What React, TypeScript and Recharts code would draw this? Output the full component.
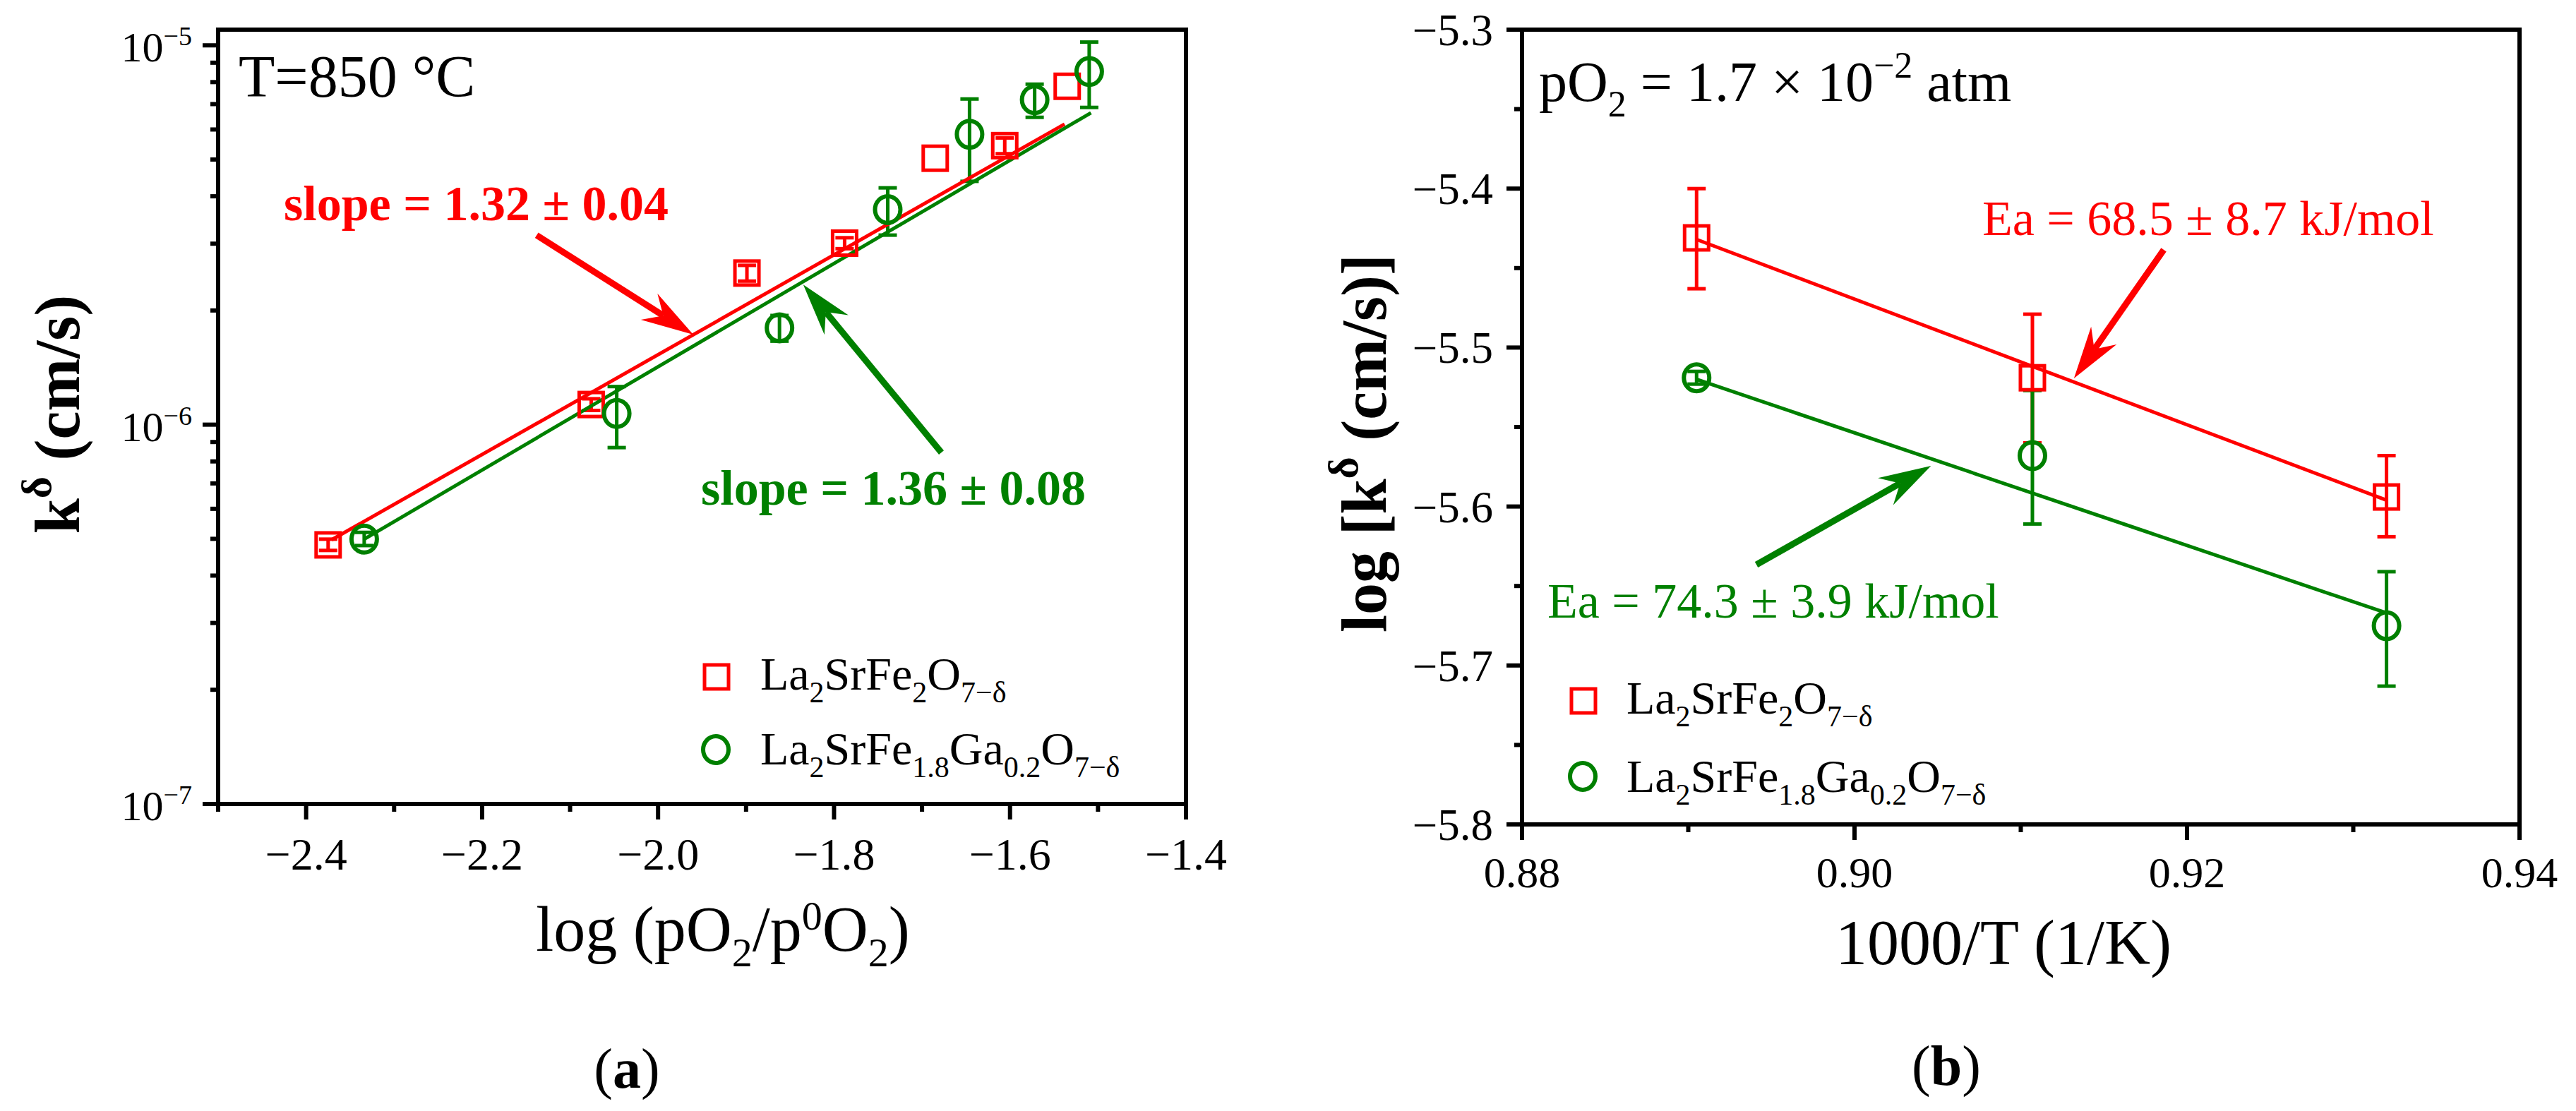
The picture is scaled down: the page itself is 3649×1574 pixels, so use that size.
import React from "react";
import {
  ComposedChart,
  Scatter,
  Line,
  XAxis,
  YAxis,
  ErrorBar,
  ReferenceLine,
} from "recharts";

const SERIF = "'Liberation Serif', 'Times New Roman', serif";
const RED = "#FF0000";
const GREEN = "#008000";

// ---- panel (a): k vs log(pO2/p0O2), T = 850 C ----
const logPO2Red = [-2.375, -2.076, -1.899, -1.788, -1.685, -1.606, -1.535];
const kRed = [4.82e-7, 1.13e-6, 2.51e-6, 3.01e-6, 5.04e-6, 5.44e-6, 7.8e-6];
const kRedLow = [4.66e-7, 1.09e-6, 2.39e-6, 2.91e-6, null, 5.18e-6, null];
const kRedHigh = [4.99e-7, 1.17e-6, 2.63e-6, 3.11e-6, null, 5.7e-6, null];

const logPO2Green = [-2.334, -2.047, -1.862, -1.739, -1.646, -1.572, -1.51];
const kGreen = [4.99e-7, 1.07e-6, 1.8e-6, 3.69e-6, 5.83e-6, 7.19e-6, 8.53e-6];
const kGreenLow = [4.8e-7, 8.7e-7, 1.66e-6, 3.16e-6, 4.38e-6, 6.46e-6, 6.86e-6];
const kGreenHigh = [5.2e-7, 1.26e-6, 1.94e-6, 4.21e-6, 7.22e-6, 7.9e-6, 1.02e-5];

const fitRedX = [-2.371, -1.538];
const fitRedK = [4.97e-7, 6.2e-6];
const fitGreenX = [-2.334, -1.508];
const fitGreenK = [4.99e-7, 6.64e-6];

const xMajorA = [-2.4, -2.2, -2.0, -1.8, -1.6, -1.4];
const xMinorA = [-2.5, -2.3, -2.1, -1.9, -1.7, -1.5];
const yMajorA = [1e-7, 1e-6, 1e-5];
const yMinorA = [
  2e-7, 3e-7, 4e-7, 5e-7, 6e-7, 7e-7, 8e-7, 9e-7,
  2e-6, 3e-6, 4e-6, 5e-6, 6e-6, 7e-6, 8e-6, 9e-6,
];

// ---- panel (b): log k vs 1000/T, pO2 = 1.7e-2 atm ----
const invT = [0.8905, 0.9107, 0.932];
const logkRed = [-5.431, -5.519, -5.594];
const logkRedLow = [-5.463, -5.56, -5.619];
const logkRedHigh = [-5.4, -5.479, -5.568];
const logkGreen = [-5.519, -5.568, -5.675];
const logkGreenLow = [-5.523, -5.611, -5.713];
const logkGreenHigh = [-5.515, -5.527, -5.641];

const fitRedInvT = [0.8905, 0.932];
const fitRedLogk = [-5.432, -5.596];
const fitGreenInvT = [0.8905, 0.932];
const fitGreenLogk = [-5.52, -5.667];

const xMajorB = [0.88, 0.9, 0.92, 0.94];
const xMinorB = [0.89, 0.91, 0.93];
const yMajorB = [-5.8, -5.7, -5.6, -5.5, -5.4, -5.3];
const yMinorB = [-5.75, -5.65, -5.55, -5.45, -5.35];

const pts = (xs: number[], ys: number[], lo?: (number | null)[], hi?: (number | null)[]) =>
  xs.map((x, i) => ({
    x,
    y: ys[i],
    err: lo && hi && lo[i] != null && hi[i] != null ? [ys[i] - (lo[i] as number), (hi[i] as number) - ys[i]] : undefined,
  }));

const redA = pts(logPO2Red, kRed, kRedLow, kRedHigh);
const greenA = pts(logPO2Green, kGreen, kGreenLow, kGreenHigh);
const redFitA = pts(fitRedX, fitRedK);
const greenFitA = pts(fitGreenX, fitGreenK);
const redB = pts(invT, logkRed, logkRedLow, logkRedHigh);
const greenB = pts(invT, logkGreen, logkGreenLow, logkGreenHigh);
const redFitB = pts(fitRedInvT, fitRedLogk);
const greenFitB = pts(fitGreenInvT, fitGreenLogk);

const has = (arr: number[], v: number) => arr.some((m) => Math.abs(m - v) < 1e-9);
const minus = (s: string) => s.replace("-", "\u2212");

const square = (color: string) => (p: any) => (
  <rect x={p.cx - 17} y={p.cy - 17} width={34} height={34} fill="none" stroke={color} strokeWidth={5} />
);
const circle = (color: string) => (p: any) => (
  <ellipse cx={p.cx} cy={p.cy} rx={18} ry={19} fill="none" stroke={color} strokeWidth={6} />
);

const arrow = (color: string) => (p: any) => {
  const { x1, y1, x2, y2 } = p;
  if (x1 == null || x2 == null) return null;
  const dx = x2 - x1;
  const dy = y2 - y1;
  const len = Math.hypot(dx, dy) || 1;
  const ux = dx / len;
  const uy = dy / len;
  const nx = -uy;
  const ny = ux;
  const L = 74;
  const W = 22;
  const N = 0.68 * L;
  const bx = x2 - L * ux;
  const by = y2 - L * uy;
  const poly = [
    [x2, y2],
    [bx + W * nx, by + W * ny],
    [x2 - N * ux, y2 - N * uy],
    [bx - W * nx, by - W * ny],
  ]
    .map((q) => q.join(","))
    .join(" ");
  return (
    <g>
      <line x1={x1} y1={y1} x2={x2 - N * ux} y2={y2 - N * uy} stroke={color} strokeWidth={9} />
      <polygon points={poly} fill={color} />
    </g>
  );
};

const xTick = (majors: number[], digits: number, dy: number, size: number) => (p: any) => {
  const { x, y, payload } = p;
  const v = payload.value;
  const major = has(majors, v);
  return (
    <g>
      <line x1={x} y1={y} x2={x} y2={y + (major ? 22 : 11)} stroke="#000" strokeWidth={6} />
      {major && (
        <text x={x} y={y + dy} textAnchor="middle" fontSize={size} fontFamily={SERIF} fill="#000">
          {minus(v.toFixed(digits))}
        </text>
      )}
    </g>
  );
};

const yTickLog = (p: any) => {
  const { x, y, payload } = p;
  const v = payload.value;
  const major = has(yMajorA, v);
  const exp = Math.round(Math.log10(v));
  return (
    <g>
      <line x1={x} y1={y} x2={x - (major ? 22 : 11)} y2={y} stroke="#000" strokeWidth={6} />
      {major && (
        <text x={x - 37} y={y + 23} textAnchor="end" fontSize={60} fontFamily={SERIF} fill="#000">
          <tspan>10</tspan>
          <tspan fontSize={38} dy={-23}>{minus(String(exp))}</tspan>
        </text>
      )}
    </g>
  );
};

const yTickLin = (p: any) => {
  const { x, y, payload } = p;
  const v = payload.value;
  const major = has(yMajorB, v);
  return (
    <g>
      <line x1={x} y1={y} x2={x - (major ? 22 : 11)} y2={y} stroke="#000" strokeWidth={6} />
      {major && (
        <text x={x - 41} y={y + 22} textAnchor="end" fontSize={63} fontFamily={SERIF} fill="#000">
          {minus(v.toFixed(1))}
        </text>
      )}
    </g>
  );
};

type Seg = { t: string; s?: "sub" | "sup"; b?: boolean };
function Rich(props: {
  x: number;
  y: number;
  size: number;
  small: number;
  subDy: number;
  supDy: number;
  segs: Seg[];
  fill?: string;
  weight?: string;
  anchor?: string;
  transform?: string;
}) {
  let cur = 0;
  const spans = props.segs.map((g, i) => {
    const target = g.s === "sub" ? props.subDy : g.s === "sup" ? -props.supDy : 0;
    const d = target - cur;
    cur = target;
    return (
      <tspan key={i} dy={d} fontSize={g.s ? props.small : props.size} fontWeight={g.b ? "bold" : undefined}>
        {g.t}
      </tspan>
    );
  });
  return (
    <text
      x={props.x}
      y={props.y}
      fontSize={props.size}
      fontFamily={SERIF}
      fill={props.fill || "#000"}
      fontWeight={props.weight}
      textAnchor={props.anchor as any}
      transform={props.transform}
      style={{ whiteSpace: "pre" }}
    >
      {spans}
    </text>
  );
}

const lsf: Seg[] = [
  { t: "La" }, { t: "2", s: "sub" }, { t: "SrFe" }, { t: "2", s: "sub" }, { t: "O" }, { t: "7\u2212\u03b4", s: "sub" },
];
const lsfg: Seg[] = [
  { t: "La" }, { t: "2", s: "sub" }, { t: "SrFe" }, { t: "1.8", s: "sub" }, { t: "Ga" }, { t: "0.2", s: "sub" },
  { t: "O" }, { t: "7\u2212\u03b4", s: "sub" },
];

const axisLine = { stroke: "#000", strokeWidth: 6, strokeLinecap: "square" };

function PanelA() {
  return (
    <ComposedChart width={1800} height={1574} margin={{ top: 42, right: 120, bottom: 434, left: 308 }}>
      <XAxis
        dataKey="x"
        type="number"
        domain={[-2.5, -1.4]}
        allowDataOverflow
        ticks={[...xMinorA, ...xMajorA].sort((a, b) => a - b)}
        interval={0}
        height={1}
        tickSize={0}
        tickMargin={0}
        tickLine={false}
        axisLine={axisLine}
        tick={xTick(xMajorA, 1, 93, 64)}
      />
      <YAxis
        dataKey="y"
        type="number"
        scale="log"
        domain={[1e-7, 1.1e-5]}
        allowDataOverflow
        ticks={[...yMajorA, ...yMinorA].sort((a, b) => a - b)}
        interval={0}
        width={1}
        tickSize={0}
        tickMargin={0}
        tickLine={false}
        axisLine={axisLine}
        tick={yTickLog}
      />
      <ReferenceLine y={1.1e-5} stroke="#000" strokeWidth={6} strokeLinecap="square" />
      <ReferenceLine x={-1.4} stroke="#000" strokeWidth={6} strokeLinecap="square" />
      <Scatter data={redA} shape={square(RED)} isAnimationActive={false}>
        <ErrorBar dataKey="err" direction="y" width={13} stroke={RED} strokeWidth={5} isAnimationActive={false} />
      </Scatter>
      <Scatter data={greenA} shape={circle(GREEN)} isAnimationActive={false}>
        <ErrorBar dataKey="err" direction="y" width={13} stroke={GREEN} strokeWidth={5} isAnimationActive={false} />
      </Scatter>
      <Line data={redFitA} dataKey="y" type="linear" stroke={RED} strokeWidth={5} dot={false} isAnimationActive={false} />
      <Line data={greenFitA} dataKey="y" type="linear" stroke={GREEN} strokeWidth={5} dot={false} isAnimationActive={false} />
      <ReferenceLine
        segment={[{ x: -2.138, y: 3.157e-6 }, { x: -1.96, y: 1.727e-6 }]}
        shape={arrow(RED)}
      />
      <ReferenceLine
        segment={[{ x: -1.678, y: 8.44e-7 }, { x: -1.835, y: 2.34e-6 }]}
        shape={arrow(GREEN)}
      />
    </ComposedChart>
  );
}

function PanelB() {
  return (
    <ComposedChart width={1849} height={1574} margin={{ top: 42, right: 80, bottom: 405, left: 355 }}>
      <XAxis
        dataKey="x"
        type="number"
        domain={[0.88, 0.94]}
        allowDataOverflow
        ticks={[...xMinorB, ...xMajorB].sort((a, b) => a - b)}
        interval={0}
        height={1}
        tickSize={0}
        tickMargin={0}
        tickLine={false}
        axisLine={axisLine}
        tick={xTick(xMajorB, 2, 89, 62)}
      />
      <YAxis
        dataKey="y"
        type="number"
        domain={[-5.8, -5.3]}
        allowDataOverflow
        ticks={[...yMajorB, ...yMinorB].sort((a, b) => a - b)}
        interval={0}
        width={1}
        tickSize={0}
        tickMargin={0}
        tickLine={false}
        axisLine={axisLine}
        tick={yTickLin}
      />
      <ReferenceLine y={-5.3} stroke="#000" strokeWidth={6} strokeLinecap="square" />
      <ReferenceLine x={0.94} stroke="#000" strokeWidth={6} strokeLinecap="square" />
      <Scatter data={redB} shape={square(RED)} isAnimationActive={false}>
        <ErrorBar dataKey="err" direction="y" width={13} stroke={RED} strokeWidth={5} isAnimationActive={false} />
      </Scatter>
      <Scatter data={greenB} shape={circle(GREEN)} isAnimationActive={false}>
        <ErrorBar dataKey="err" direction="y" width={13} stroke={GREEN} strokeWidth={5} isAnimationActive={false} />
      </Scatter>
      <Line data={redFitB} dataKey="y" type="linear" stroke={RED} strokeWidth={5} dot={false} isAnimationActive={false} />
      <Line data={greenFitB} dataKey="y" type="linear" stroke={GREEN} strokeWidth={5} dot={false} isAnimationActive={false} />
      <ReferenceLine
        segment={[{ x: 0.9186, y: -5.4385 }, { x: 0.9132, y: -5.5194 }]}
        shape={arrow(RED)}
      />
      <ReferenceLine
        segment={[{ x: 0.8941, y: -5.6366 }, { x: 0.9046, y: -5.5744 }]}
        shape={arrow(GREEN)}
      />
    </ComposedChart>
  );
}

function Overlay() {
  return (
    <svg
      width={3649}
      height={1574}
      style={{ position: "absolute", left: 0, top: 0, pointerEvents: "none" }}
    >
      {/* panel (a) */}
      <text x={338} y={137} fontSize={84} fontFamily={SERIF} fill="#000">T=850 °C</text>
      <text x={402} y={312} fontSize={70} fontWeight="bold" fontFamily={SERIF} fill={RED}>
        slope = 1.32 ± 0.04
      </text>
      <text x={993} y={715} fontSize={70} fontWeight="bold" fontFamily={SERIF} fill={GREEN}>
        slope = 1.36 ± 0.08
      </text>
      <rect x={998} y={942} width={34} height={34} fill="none" stroke={RED} strokeWidth={5} />
      <Rich x={1077} y={977} size={66} small={42} subDy={18} supDy={0} segs={lsf} />
      <ellipse cx={1014} cy={1062} rx={18} ry={19} fill="none" stroke={GREEN} strokeWidth={6} />
      <Rich x={1077} y={1083} size={66} small={42} subDy={18} supDy={0} segs={lsfg} />
      <Rich
        x={0}
        y={0}
        size={90}
        small={60}
        subDy={0}
        supDy={40}
        weight="bold"
        anchor="middle"
        transform="translate(112,587) rotate(-90)"
        segs={[{ t: "k" }, { t: "\u03b4", s: "sup" }, { t: " (cm/s)" }]}
      />
      <Rich
        x={1024}
        y={1347}
        size={90}
        small={58}
        subDy={22}
        supDy={30}
        anchor="middle"
        segs={[
          { t: "log (pO" }, { t: "2", s: "sub" }, { t: "/p" }, { t: "0", s: "sup" }, { t: "O" }, { t: "2", s: "sub" }, { t: ")" },
        ]}
      />
      <text x={888} y={1541} textAnchor="middle" fontSize={80} fontFamily={SERIF} fill="#000">
        (<tspan fontWeight="bold">a</tspan>)
      </text>

      {/* panel (b) */}
      <Rich
        x={2180}
        y={143}
        size={80}
        small={52}
        subDy={22}
        supDy={33}
        segs={[
          { t: "pO" }, { t: "2", s: "sub" }, { t: " = 1.7 × 10" }, { t: "\u22122", s: "sup" }, { t: " atm" },
        ]}
      />
      <text x={2808} y={333} fontSize={70} fontFamily={SERIF} fill={RED}>Ea = 68.5 ± 8.7 kJ/mol</text>
      <text x={2192} y={875} fontSize={70} fontFamily={SERIF} fill={GREEN}>Ea = 74.3 ± 3.9 kJ/mol</text>
      <rect x={2226} y={976} width={34} height={34} fill="none" stroke={RED} strokeWidth={5} />
      <Rich x={2304} y={1011} size={66} small={42} subDy={18} supDy={0} segs={lsf} />
      <ellipse cx={2242} cy={1100} rx={18} ry={19} fill="none" stroke={GREEN} strokeWidth={6} />
      <Rich x={2304} y={1122} size={66} small={42} subDy={18} supDy={0} segs={lsfg} />
      <Rich
        x={0}
        y={0}
        size={90}
        small={60}
        subDy={0}
        supDy={40}
        weight="bold"
        anchor="middle"
        transform="translate(1963,628) rotate(-90)"
        segs={[{ t: "log [k" }, { t: "\u03b4", s: "sup" }, { t: " (cm/s)]" }]}
      />
      <text x={2838} y={1366} textAnchor="middle" fontSize={90} fontFamily={SERIF} fill="#000">
        1000/T (1/K)
      </text>
      <text x={2757} y={1537} textAnchor="middle" fontSize={80} fontFamily={SERIF} fill="#000">
        (<tspan fontWeight="bold">b</tspan>)
      </text>
    </svg>
  );
}

export default function App() {
  return (
    <div style={{ position: "relative", width: 3649, height: 1574, background: "#fff", fontFamily: SERIF }}>
      <style>{`body{margin:0}`}</style>
      <div style={{ position: "absolute", left: 0, top: 0 }}>
        <PanelA />
      </div>
      <div style={{ position: "absolute", left: 1800, top: 0 }}>
        <PanelB />
      </div>
      <Overlay />
    </div>
  );
}
